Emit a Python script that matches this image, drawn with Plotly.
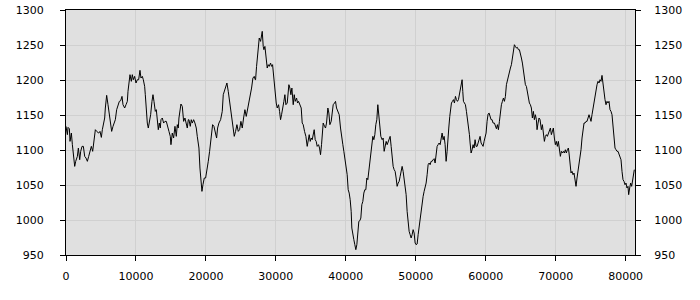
import plotly.graph_objects as go

x_vals = [
    0, 195, 291, 481, 576, 767, 910, 1053, 1243, 1386, 1624, 1767, 1957, 2100, 2291, 2481, 2672, 2862,
    3053, 3243, 3433, 3624, 3814, 4005, 4195, 4386, 4672, 4862, 5053, 5195, 5338, 5529, 5624, 5814,
    6005, 6195, 6386, 6529, 6719, 6862, 7053, 7243, 7433, 7624, 7814, 8005, 8148, 8386, 8576, 8767,
    8862, 9005, 9148, 9338, 9481, 9624, 9814, 10005, 10195, 10386, 10576, 10719, 10910, 11053, 11243,
    11338, 11481, 11624, 11767, 11910, 12100, 12291, 12433, 12576, 12767, 12910, 13053, 13195, 13338, 13481,
    13576, 13766, 13957, 14147, 14338, 14528, 14719, 14909, 15004, 15195, 15385, 15576, 15766, 15909,
    16052, 16147, 16290, 16433, 16624, 16814, 17004, 17195, 17338, 17481, 17576, 17766, 17909, 18052,
    18243, 18433, 18624, 18766, 19004, 19147, 19290, 19433, 19576, 19766, 19957, 20147, 20338, 20528,
    20671, 20814, 20957, 21147, 21385, 21528, 21671, 21861, 22100, 22338, 22481, 22623, 22814, 23004,
    23195, 23385, 23576, 23766, 23957, 24052, 24242, 24433, 24623, 24814, 25004, 25195, 25385, 25576,
    25766, 25957, 26147, 26338, 26528, 26719, 26909, 27052,
    27100, 27243, 27433, 27624, 27815, 27957, 28053, 28195, 28291, 28434, 28576, 28767, 28910, 29053,
    29243, 29386, 29529, 29624, 29719, 29910, 30053, 30196, 30386, 30529, 30672, 30815, 30957, 31148,
    31291, 31434, 31624, 31719, 31862, 32005, 32148, 32291, 32481, 32624, 32767, 32957, 33100, 33243,
    33434, 33624, 33767, 33910, 34100, 34291, 34481, 34624, 34767, 34910, 35053, 35196, 35338, 35481,
    35624, 35767, 35910, 36100, 36243, 36386, 36529, 36672, 36767, 36957, 37100, 37243, 37434, 37576,
    37719, 37910, 38053, 38196, 38386, 38529, 38672, 38815, 38957, 39053, 39243, 39386, 39577, 39719,
    39910, 40053, 40196, 40338, 40481, 40624,
    40767, 40862, 41005, 41148, 41290, 41433, 41576, 41719, 41862, 42005, 42148, 42290, 42433, 42576,
    42719, 42862, 43005, 43148, 43290, 43433, 43576, 43719, 43862, 44005, 44148, 44290, 44433, 44576,
    44719, 44862, 45005, 45195, 45338, 45481, 45624, 45767, 45910, 46052, 46195, 46338, 46481, 46624,
    46767, 46910, 47052, 47195, 47338, 47481, 47624, 47767, 47910, 48052, 48195, 48338, 48481, 48624,
    48767, 48910, 49052, 49195, 49338, 49481, 49624, 49767, 49909, 50052, 50195, 50338, 50481, 50624,
    50766, 50909, 51052, 51195, 51338, 51481, 51624, 51766, 51909, 52052, 52195, 52338, 52481, 52624,
    52766, 52909, 53052, 53195, 53338, 53481, 53623, 53766, 53909, 54052, 54195,
    54338, 54481, 54577, 54719, 54862, 54958, 55100, 55243, 55386, 55529, 55672, 55815, 55958, 56100,
    56243, 56386, 56529, 56624, 56719, 56815, 56958, 57100, 57243, 57386, 57529, 57672, 57767, 57910,
    58053, 58196, 58338, 58481, 58624, 58767, 58910, 59053, 59196, 59338, 59481, 59624, 59767, 59910,
    60053, 60196, 60338, 60481, 60624, 60767, 60910, 61053, 61243, 61386, 61529, 61672, 61815, 61958,
    62100, 62243, 62386, 62529, 62672, 62815, 62958, 63100, 63243, 63386, 63529, 63672, 63815, 63958,
    64100, 64243, 64386, 64529, 64672, 64815, 64958, 65100, 65243, 65386, 65529, 65672, 65815, 65958,
    66100, 66243, 66386, 66529, 66672, 66815, 66958, 67100, 67243, 67338, 67481, 67624, 67767,
    67957, 68100, 68243, 68386, 68529, 68671, 68814, 68957, 69100, 69243, 69386, 69529, 69671, 69814,
    69957, 70100, 70243, 70386, 70529, 70671, 70814, 70957, 71100, 71243, 71386, 71529, 71671, 71814,
    71910, 72052, 72195, 72338, 72481, 72624, 72767, 72910, 73052, 73195, 73338, 73481, 73624, 73767,
    73910, 74052, 74195, 74338, 74481, 74624, 74767, 74910, 75052, 75195, 75338, 75481, 75624, 75767,
    75910, 76052, 76195, 76338, 76481, 76624, 76767, 76910, 77052, 77195, 77338, 77481, 77624, 77767,
    77910, 78052, 78195, 78338, 78481, 78624, 78767, 78910, 79052, 79195, 79338, 79481, 79624, 79767,
    79910, 80052, 80195, 80338, 80433, 80576, 80719, 80862, 81005, 81148, 81243,
]

y_vals = [
    1133.8, 1121.9, 1132.3, 1130.4, 1112.3, 1124.2, 1107.6, 1090.9, 1076.6, 1083.8, 1090.9, 1102.8, 1086.1,
    1098.1, 1105.2, 1105.2, 1090.9, 1088.5, 1083.8, 1090.9, 1098.1, 1105.2, 1098.1, 1112.3, 1129.0, 1126.6,
    1124.2, 1126.6, 1118.0, 1129.0, 1138.5, 1145.7, 1160.0, 1178.1, 1164.7, 1150.4, 1133.8, 1126.6, 1133.8,
    1138.5, 1143.3, 1157.6, 1164.7, 1169.5, 1170.4, 1176.6, 1164.7, 1160.0, 1164.7, 1169.5, 1183.8, 1200.4,
    1207.6, 1198.1, 1207.6, 1200.4, 1205.2, 1195.7, 1200.4, 1200.4, 1213.8, 1202.8, 1205.2, 1200.4, 1190.9,
    1179.0, 1150.4, 1138.5, 1131.4, 1138.5, 1150.4, 1169.5, 1179.0, 1169.5, 1155.2, 1157.6, 1143.3, 1129.0,
    1138.5, 1131.4,
    1143.3, 1145.7, 1138.5, 1140.9, 1140.9, 1131.4, 1126.6, 1119.5, 1107.6, 1124.2, 1117.1, 1133.8, 1119.5,
    1136.2, 1131.4, 1145.7, 1157.6, 1165.7, 1162.3, 1140.9, 1145.7, 1138.5, 1131.4, 1143.3, 1143.3, 1133.8,
    1143.3, 1138.5, 1143.3, 1138.5, 1131.4, 1119.5, 1102.8, 1074.2, 1055.2, 1040.9, 1050.4, 1060.0, 1060.0,
    1069.5, 1083.8, 1098.1, 1112.3, 1124.2, 1136.2, 1133.8, 1124.2, 1117.1, 1131.4, 1138.5, 1143.3, 1155.2,
    1179.0, 1183.8, 1190.9, 1195.7, 1183.8, 1169.5, 1155.2, 1136.2, 1129.0, 1119.5, 1126.6, 1136.2, 1126.6,
    1129.0, 1140.9, 1131.4, 1145.7, 1157.6, 1148.0, 1157.6, 1164.7, 1179.0, 1188.5, 1202.8, 1205.2, 1200.4,
    1200.4, 1219.5, 1245.7, 1260.0, 1255.2, 1262.3, 1269.5, 1248.0, 1243.3, 1248.0, 1236.1, 1217.1, 1221.9,
    1219.5, 1224.2, 1219.5, 1221.9, 1212.3, 1195.7, 1183.8, 1167.1, 1160.0, 1164.7, 1155.2, 1143.3, 1150.4,
    1162.3, 1169.5, 1179.0, 1164.7, 1167.1, 1179.0, 1193.3, 1188.5, 1179.0, 1188.5, 1164.7, 1179.0, 1169.5,
    1174.2, 1167.1, 1169.5, 1164.7, 1160.0, 1138.5, 1136.2, 1126.6, 1119.5, 1105.2, 1112.3, 1121.9, 1112.3,
    1117.1, 1114.7, 1121.9, 1129.0, 1114.7, 1112.3, 1105.2, 1107.6, 1102.8, 1093.3, 1107.6, 1121.9, 1138.5,
    1133.8, 1131.4, 1138.5, 1160.0, 1152.8, 1136.2, 1140.9, 1155.2, 1164.7, 1167.1, 1169.5, 1160.0, 1155.2,
    1150.4, 1150.4, 1131.4, 1117.1, 1107.6, 1098.1, 1083.8, 1074.2, 1064.7, 1043.3, 1038.5, 1029.0,
    1012.3, 988.5, 976.6, 971.9, 964.7, 957.6, 964.7, 981.4, 998.1, 999.0, 1002.8, 1021.9, 1026.6, 1038.5,
    1043.3, 1043.3, 1060.0, 1057.6, 1071.9, 1083.8, 1098.1, 1114.7, 1119.5, 1114.7, 1121.9, 1136.2, 1143.3,
    1164.7, 1150.4, 1143.3, 1119.5, 1114.7, 1117.1, 1098.1, 1107.6, 1112.3, 1107.6, 1112.3, 1114.7, 1119.5,
    1105.2, 1088.5, 1076.6, 1071.9, 1069.5, 1060.0, 1048.1, 1052.8, 1055.2, 1062.4, 1069.5, 1076.6, 1069.5,
    1060.0, 1050.4, 1036.2, 1012.3, 993.3, 983.8, 979.0, 974.3, 979.0, 986.2, 981.4, 967.1, 964.7, 965.7,
    979.0, 990.9, 1002.8, 1017.1, 1024.2, 1033.8, 1040.9, 1045.7, 1052.8, 1064.7, 1079.0, 1081.4, 1079.0,
    1083.8, 1083.8, 1086.1, 1087.6, 1081.4, 1098.1, 1105.2, 1107.6, 1110.0, 1107.6, 1119.5, 1124.2, 1114.7,
    1119.5, 1107.6,
    1083.8, 1098.1, 1119.5, 1131.4, 1148.0, 1157.6, 1167.1, 1169.5, 1171.9, 1167.1, 1176.6, 1171.9, 1169.5,
    1171.9, 1179.0, 1190.9, 1198.1, 1200.4, 1183.8, 1169.5, 1167.1, 1164.7, 1155.2, 1145.7, 1138.5, 1121.9,
    1110.0, 1095.7, 1100.4, 1107.6, 1102.8, 1114.7, 1105.2, 1105.2, 1110.0, 1117.1, 1119.5, 1110.0, 1107.6,
    1105.2, 1112.3, 1117.1, 1124.2, 1140.9, 1151.4, 1152.8, 1148.0, 1143.3, 1143.3, 1138.5, 1138.5, 1133.8,
    1130.4, 1136.2, 1129.0, 1140.9, 1155.2, 1164.7, 1169.5, 1174.2, 1169.5, 1176.6, 1193.3, 1200.4, 1207.6,
    1210.0, 1217.1, 1221.9, 1231.4, 1240.9, 1250.4, 1248.0, 1245.7, 1246.6, 1243.3, 1243.3, 1238.5, 1231.4,
    1224.2, 1212.3, 1205.2, 1193.3, 1190.9, 1181.4, 1179.0, 1167.1, 1164.7, 1160.0, 1145.7, 1155.2, 1143.3,
    1150.4, 1143.3, 1129.0, 1138.5, 1145.7, 1143.3,
    1129.0, 1136.2, 1126.6, 1112.3, 1119.5, 1121.9, 1119.5, 1124.2, 1126.6, 1131.4, 1121.9, 1129.0, 1131.4,
    1117.1, 1107.6, 1112.3, 1105.2, 1112.3, 1098.1, 1090.9, 1098.1, 1095.7, 1098.1, 1095.7, 1100.4, 1095.7,
    1100.4, 1102.8, 1095.7, 1079.0, 1067.1, 1069.5, 1064.7, 1067.1, 1055.2, 1048.1, 1060.0, 1069.5, 1083.8,
    1090.9, 1100.4, 1117.1, 1131.4, 1138.5, 1138.5, 1140.9, 1140.9, 1145.7, 1150.4, 1145.7, 1140.9, 1150.4,
    1160.0, 1167.1, 1174.2, 1188.5, 1193.3, 1198.1, 1195.7, 1200.4, 1198.1, 1206.6, 1193.3, 1181.4, 1171.9,
    1164.7, 1169.5, 1167.1, 1169.5, 1157.6, 1155.2, 1150.4, 1131.4, 1117.1, 1102.8, 1100.4, 1098.1, 1098.1,
    1093.3, 1088.5, 1086.1, 1069.5, 1057.6, 1055.2, 1050.4, 1052.8, 1045.7, 1048.1, 1036.2, 1045.7, 1052.8,
    1048.1, 1060.0, 1071.9, 1071.9,
]

x_ticks = [0, 10000, 20000, 30000, 40000, 50000, 60000, 70000, 80000]
y_ticks = [950, 1000, 1050, 1100, 1150, 1200, 1250, 1300]

FONT = dict(family="DejaVu Sans", size=11, color="#000000")
X_RANGE = [0, 81340]
Y_RANGE = [950, 1300]

fig = go.Figure()
fig.add_trace(go.Scatter(x=x_vals, y=y_vals, mode="lines",
                         line=dict(color="#000000", width=1), hoverinfo="skip", showlegend=False))
fig.add_trace(go.Scatter(x=x_vals, y=y_vals, mode="lines", yaxis="y2",
                         line=dict(color="rgba(0,0,0,0)", width=1), hoverinfo="skip", showlegend=False))

fig.update_layout(
    width=700, height=300,
    margin=dict(l=66, r=65, t=10, b=45, autoexpand=False),
    paper_bgcolor="#ffffff",
    plot_bgcolor="#e0e0e0",
    font=FONT,
    showlegend=False,
    xaxis=dict(range=X_RANGE, tickvals=x_ticks, ticktext=[str(v) for v in x_ticks],
               showgrid=True, gridcolor="#d0d0d0", gridwidth=1, zeroline=False,
               showline=True, linecolor="#000000", linewidth=1, mirror=True,
               ticks="outside", ticklen=5, tickcolor="#000000", ticklabelstandoff=6,
               tickfont=FONT, automargin=False),
    yaxis=dict(range=Y_RANGE, tickvals=y_ticks, ticktext=[str(v) for v in y_ticks],
               showgrid=True, gridcolor="#d0d0d0", gridwidth=1, zeroline=False,
               showline=True, linecolor="#000000", linewidth=1, mirror=True,
               ticks="outside", ticklen=5, tickcolor="#000000", ticklabelstandoff=14,
               tickfont=FONT, automargin=False),
    yaxis2=dict(range=Y_RANGE, tickvals=y_ticks, ticktext=[str(v) for v in y_ticks],
                overlaying="y", side="right", showgrid=False, zeroline=False,
                showline=False, ticks="outside", ticklen=5, tickcolor="#000000",
                ticklabelstandoff=11, tickfont=FONT, automargin=False),
)

fig.write_html("out.html")
